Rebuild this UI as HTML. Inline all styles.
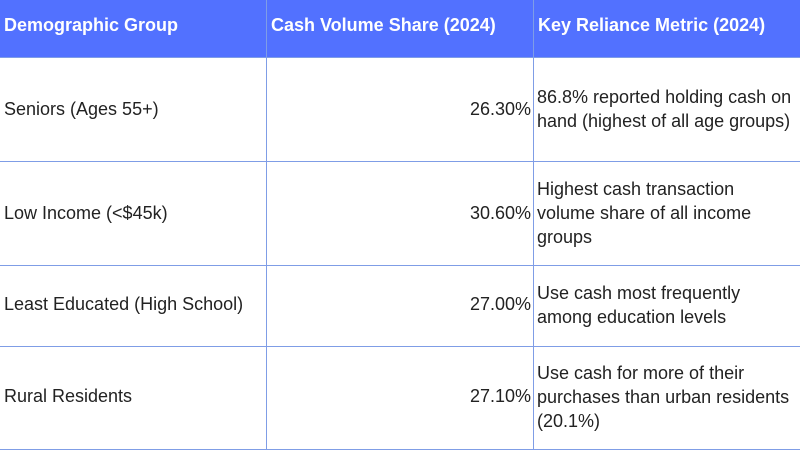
<!DOCTYPE html>
<html><head><style>
body{margin:0;width:800px;height:450px;overflow:hidden;background:#fff;font-family:"Liberation Sans",sans-serif;}
.h{position:absolute;top:0;left:0;width:800px;height:57px;background:#5271ff;}
.l{position:absolute;background:#7f9de6;}
.t{position:absolute;font-size:18px;color:#222;line-height:24px;}
.b{position:absolute;font-size:18px;font-weight:bold;color:#fff;top:15px;}
</style></head><body>
<div class="h"></div>
<div class="l" style="left:266px;top:0;width:1px;height:450px"></div>
<div class="l" style="left:533px;top:0;width:1px;height:450px"></div>
<div class="l" style="left:0;top:57px;width:800px;height:1px"></div>
<div class="l" style="left:0;top:161px;width:800px;height:1px"></div>
<div class="l" style="left:0;top:265px;width:800px;height:1px"></div>
<div class="l" style="left:0;top:346px;width:800px;height:1px"></div>
<div class="l" style="left:0;top:449px;width:800px;height:1px"></div>
<div class="b" style="left:4px">Demographic Group</div>
<div class="b" style="left:271px">Cash Volume Share (2024)</div>
<div class="b" style="left:538px">Key Reliance Metric (2024)</div>

<div class="t" style="left:4px;top:97px">Seniors (Ages 55+)</div>
<div class="t" style="left:266px;width:265px;text-align:right;top:97px">26.30%</div>
<div class="t" style="left:537px;width:258px;top:85px">86.8% reported holding cash on hand (highest of all age groups)</div>

<div class="t" style="left:4px;top:201px">Low Income (&lt;$45k)</div>
<div class="t" style="left:266px;width:265px;text-align:right;top:201px">30.60%</div>
<div class="t" style="left:537px;width:258px;top:177px">Highest cash transaction volume share of all income groups</div>

<div class="t" style="left:4px;top:292px">Least Educated (High School)</div>
<div class="t" style="left:266px;width:265px;text-align:right;top:292px">27.00%</div>
<div class="t" style="left:537px;width:258px;top:281px">Use cash most frequently among education levels</div>

<div class="t" style="left:4px;top:384px">Rural Residents</div>
<div class="t" style="left:266px;width:265px;text-align:right;top:384px">27.10%</div>
<div class="t" style="left:537px;width:258px;top:361px">Use cash for more of their purchases than urban residents (20.1%)</div>
</body></html>
